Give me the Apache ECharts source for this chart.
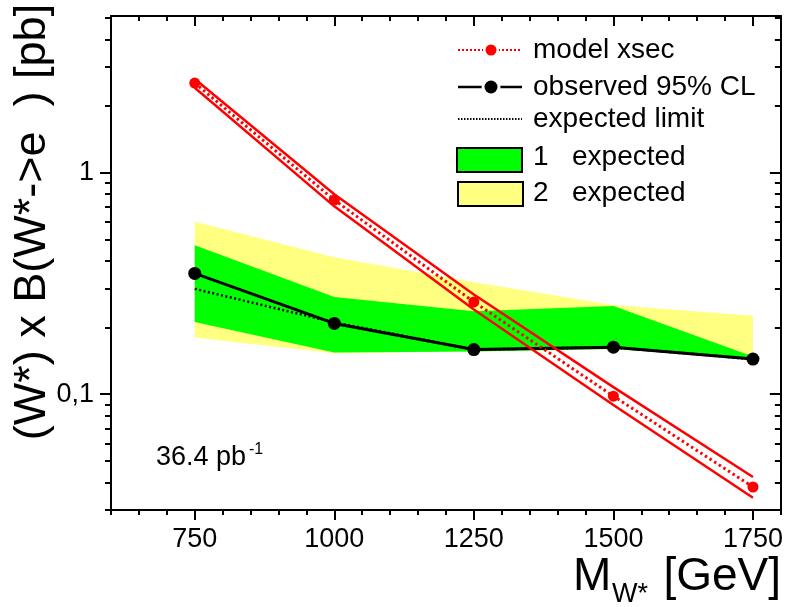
<!DOCTYPE html>
<html>
<head>
<meta charset="utf-8">
<script src="https://cdn.jsdelivr.net/npm/echarts@6/dist/echarts.min.js"></script>
<style>
  html, body { margin: 0; padding: 0; background: #fff; }
  #chart { width: 786px; height: 607px; }
</style>
</head>
<body>
<div id="chart"></div>
<script>
// W* mass points [GeV]
const masses = [750, 1000, 1250, 1500, 1750];
// theory cross section and its uncertainty band [pb]
const modelXsec  = [2.54, 0.753, 0.261, 0.098, 0.0381];
const modelUpper = [2.65, 0.80, 0.282, 0.1076, 0.0423];
const modelLower = [2.42, 0.705, 0.241, 0.0893, 0.0341];
// observed and expected 95% CL limits [pb]
const observed = [0.351, 0.2087, 0.159, 0.163, 0.144];
const expected = [0.299, 0.211, 0.159, 0.163, 0.144];
// 1 sigma and 2 sigma expected bands [pb]
const band1Upper = [0.471, 0.275, 0.237, 0.250, 0.148];
const band1Lower = [0.212, 0.1543, 0.156, 0.160, 0.144];
const band2Upper = [0.601, 0.415, 0.320, 0.253, 0.226];
const band2Lower = [0.1804, 0.153, 0.156, 0.160, 0.144];
// axis ticks
const xMajorTicks = [750, 1000, 1250, 1500, 1750];
const yMajorTicks = [0.1, 1];
const yMinorTicks = [0.03, 0.04, 0.05, 0.06, 0.07, 0.08, 0.09,
                     0.2, 0.3, 0.4, 0.5, 0.6, 0.7, 0.8, 0.9, 2, 3, 4, 5];

const FONT = 'Liberation Sans, Arial, Helvetica, sans-serif';
const chart = echarts.init(document.getElementById('chart'), null, { renderer: 'canvas' });

function pairs(ys) { return masses.map((m, i) => [m, ys[i]]); }

// filled band between two curves, drawn as one polygon in data coordinates
function bandSeries(lower, upper, color) {
  return {
    type: 'custom',
    silent: true,
    data: masses.map((m, i) => [m, lower[i], upper[i]]),
    encode: { x: 0, y: [1, 2] },
    renderItem(params, api) {
      if (params.dataIndex !== 0) return null;
      const n = params.dataInsideLength;
      const pts = [];
      for (let i = 0; i < n; i++) pts.push(api.coord([api.value(0, i), api.value(2, i)]));
      for (let i = n - 1; i >= 0; i--) pts.push(api.coord([api.value(0, i), api.value(1, i)]));
      return { type: 'polygon', shape: { points: pts }, style: { fill: color, stroke: null } };
    },
    z: 1
  };
}

const axisLineStyle = { color: '#000', width: 2 };
const xBase = { type: 'value', min: 600, max: 1800, gridIndex: 0, splitLine: { show: false } };
const yBase = { type: 'log', logBase: 10, min: 0.03, max: 5.1, gridIndex: 0, splitLine: { show: false } };

const option = {
  animation: false,
  backgroundColor: '#fff',
  grid: { left: 111, right: 5, top: 16, bottom: 97, containLabel: false },
  xAxis: [
    Object.assign({}, xBase, {
      position: 'bottom', interval: 50,
      axisLine: { show: true, lineStyle: axisLineStyle },
      axisTick: { show: true, inside: false, length: 5, lineStyle: { color: '#000', width: 2 } },
      axisLabel: { show: false }
    }),
    Object.assign({}, xBase, {
      position: 'bottom',
      axisLine: { show: false },
      axisTick: { show: true, inside: false, length: 10, customValues: xMajorTicks, lineStyle: { color: '#000', width: 2 } },
      axisLabel: {
        show: true, customValues: xMajorTicks, color: '#000', fontSize: 27, fontFamily: FONT, margin: 16,
        formatter: v => String(Math.round(v))
      }
    }),
    Object.assign({}, xBase, {
      position: 'top', interval: 50,
      axisLine: { show: true, lineStyle: axisLineStyle },
      axisTick: { show: true, inside: true, length: 5, lineStyle: { color: '#000', width: 2 } },
      axisLabel: { show: false }
    }),
    Object.assign({}, xBase, {
      position: 'top',
      axisLine: { show: false },
      axisTick: { show: true, inside: true, length: 10, customValues: xMajorTicks, lineStyle: { color: '#000', width: 2 } },
      axisLabel: { show: false }
    })
  ],
  yAxis: [
    Object.assign({}, yBase, {
      position: 'left',
      axisLine: { show: true, lineStyle: axisLineStyle },
      axisTick: { show: true, inside: false, length: 11, customValues: yMajorTicks, lineStyle: { color: '#000', width: 2 } },
      axisLabel: {
        show: true, customValues: yMajorTicks, color: '#000', fontSize: 27, fontFamily: FONT, margin: 17,
        formatter: v => String(+v.toPrecision(3)).replace('.', ',')
      }
    }),
    Object.assign({}, yBase, {
      position: 'left',
      axisLine: { show: false },
      axisTick: { show: true, inside: false, length: 6, customValues: yMinorTicks, lineStyle: { color: '#000', width: 2 } },
      axisLabel: { show: false }
    }),
    Object.assign({}, yBase, {
      position: 'right',
      axisLine: { show: true, lineStyle: axisLineStyle },
      axisTick: { show: true, inside: true, length: 11, customValues: yMajorTicks, lineStyle: { color: '#000', width: 2 } },
      axisLabel: { show: false }
    }),
    Object.assign({}, yBase, {
      position: 'right',
      axisLine: { show: false },
      axisTick: { show: true, inside: true, length: 6, customValues: yMinorTicks, lineStyle: { color: '#000', width: 2 } },
      axisLabel: { show: false }
    })
  ],
  series: [
    bandSeries(band2Lower, band2Upper, '#ffff80'),
    bandSeries(band1Lower, band1Upper, '#00ff00'),
    {
      name: 'expected limit', type: 'line', data: pairs(expected),
      showSymbol: false, symbol: 'none',
      lineStyle: { color: '#000', width: 2.5, type: [2, 2.5] }, z: 3
    },
    {
      name: 'observed 95% CL', type: 'line', data: pairs(observed),
      symbol: 'circle', symbolSize: 13, showSymbol: true,
      itemStyle: { color: '#000' },
      lineStyle: { color: '#000', width: 3 }, z: 4
    },
    {
      name: 'model upper', type: 'line', data: pairs(modelUpper), symbol: 'none',
      lineStyle: { color: '#ff0000', width: 2.5 }, z: 5
    },
    {
      name: 'model lower', type: 'line', data: pairs(modelLower), symbol: 'none',
      lineStyle: { color: '#ff0000', width: 2.5 }, z: 5
    },
    {
      name: 'model xsec', type: 'line', data: pairs(modelXsec),
      symbol: 'circle', symbolSize: 11, showSymbol: true,
      itemStyle: { color: '#ff0000' },
      lineStyle: { color: '#ff0000', width: 3, type: [2.5, 3] }, z: 6
    }
  ],
  graphic: [
    // legend
    { type: 'line', shape: { x1: 458, y1: 50, x2: 522, y2: 50 }, style: { stroke: '#ff0000', lineWidth: 2, lineDash: [2, 2] }, z: 10 },
    { type: 'circle', shape: { cx: 491, cy: 50, r: 8 }, style: { fill: '#fff' }, z: 10 },
    { type: 'circle', shape: { cx: 491, cy: 50, r: 5.5 }, style: { fill: '#ff0000' }, z: 11 },
    { type: 'text', x: 533, y: 50, style: { text: 'model xsec', font: '28px ' + FONT, fill: '#000', verticalAlign: 'middle' }, z: 10 },

    { type: 'line', shape: { x1: 458, y1: 87, x2: 522, y2: 87 }, style: { stroke: '#000', lineWidth: 2.5 }, z: 10 },
    { type: 'circle', shape: { cx: 491, cy: 87, r: 9.5 }, style: { fill: '#fff' }, z: 10 },
    { type: 'circle', shape: { cx: 491, cy: 87, r: 6.5 }, style: { fill: '#000' }, z: 11 },
    { type: 'text', x: 533, y: 87, style: { text: 'observed 95% CL', font: '28px ' + FONT, fill: '#000', verticalAlign: 'middle' }, z: 10 },

    { type: 'line', shape: { x1: 458, y1: 119, x2: 522, y2: 119 }, style: { stroke: '#000', lineWidth: 2, lineDash: [1.5, 1.5] }, z: 10 },
    { type: 'text', x: 533, y: 119, style: { text: 'expected limit', font: '28px ' + FONT, fill: '#000', verticalAlign: 'middle' }, z: 10 },

    { type: 'rect', shape: { x: 457, y: 148, width: 65, height: 24 }, style: { fill: '#00ff00', stroke: '#000', lineWidth: 2 }, z: 10 },
    { type: 'text', x: 533, y: 157, style: { text: '1', font: '28px ' + FONT, fill: '#000', verticalAlign: 'middle' }, z: 10 },
    { type: 'text', x: 572, y: 157, style: { text: 'expected', font: '28px ' + FONT, fill: '#000', verticalAlign: 'middle' }, z: 10 },

    { type: 'rect', shape: { x: 458, y: 182, width: 65, height: 24 }, style: { fill: '#ffff80', stroke: '#000', lineWidth: 2 }, z: 10 },
    { type: 'text', x: 533, y: 193, style: { text: '2', font: '28px ' + FONT, fill: '#000', verticalAlign: 'middle' }, z: 10 },
    { type: 'text', x: 572, y: 193, style: { text: 'expected', font: '28px ' + FONT, fill: '#000', verticalAlign: 'middle' }, z: 10 },

    // luminosity note
    { type: 'text', x: 156, y: 458, style: { text: '36.4 pb', font: '27px ' + FONT, fill: '#000', verticalAlign: 'middle' }, z: 10 },
    { type: 'text', x: 249, y: 450, style: { text: '-1', font: '16px ' + FONT, fill: '#000', verticalAlign: 'middle' }, z: 10 },

    // axis titles
    { type: 'text', x: 33, y: 222, rotation: Math.PI / 2,
      style: { text: '(W*) x B(W*->e  ) [pb]', font: '45px ' + FONT, fill: '#000', align: 'center', verticalAlign: 'middle' }, z: 10 },
    { type: 'text', x: 573, y: 577, style: { text: 'M', font: '46px ' + FONT, fill: '#000', verticalAlign: 'middle' }, z: 10 },
    { type: 'text', x: 612, y: 595, style: { text: 'W*', font: '27px ' + FONT, fill: '#000', verticalAlign: 'middle' }, z: 10 },
    { type: 'text', x: 781, y: 577, style: { text: '[GeV]', font: '46px ' + FONT, fill: '#000', align: 'right', verticalAlign: 'middle' }, z: 10 }
  ]
};

chart.setOption(option);
</script>
</body>
</html>
